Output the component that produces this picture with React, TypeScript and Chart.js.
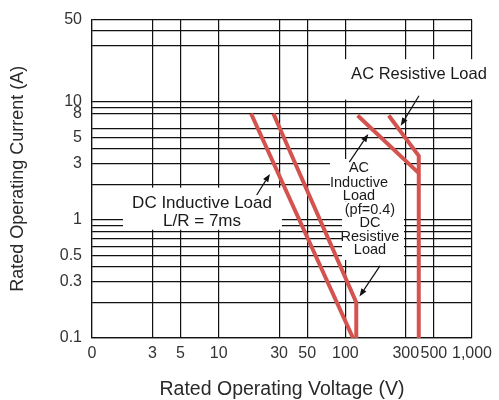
import React, { useEffect, useRef } from "react";
import { Chart, registerables } from "chart.js";

Chart.register(...registerables);

const FONT = "'Liberation Sans', Arial, sans-serif";

// Axis ticks
const xTicks = [1, 3, 5, 10, 30, 50, 100, 300, 500, 1000];
const xTickLabels = ["0", "3", "5", "10", "30", "50", "100", "300", "500", "1,000"];
const yTicks = [0.1, 0.2, 0.3, 0.4, 0.5, 0.6, 0.7, 0.8, 0.9, 1, 2, 3, 4, 5, 6, 8, 9, 10, 30, 40, 50];
const yLabeled = [0.1, 0.3, 0.5, 1, 3, 5, 8, 10, 50];
const yTickLabels = ["0.1", "0.3", "0.5", "1", "3", "5", "8", "10", "50"];

// Series (voltage V, current A)
const dcInductiveV = [18, 115];
const dcInductiveA = [8, 0.1];
const dcResistiveV = [27, 122, 122];
const dcResistiveA = [8, 0.2, 0.1];
const acInductiveV = [125, 380];
const acInductiveA = [7.7, 2.5];
const acResistiveV = [220, 380, 380];
const acResistiveA = [7.7, 3.5, 0.1];

// Annotations (in data units)
const labelBoxes = [
  [95.8, 1387, 23.1, 10.5],
  [1.756, 31.6, 1.88, 0.828],
  [75.7, 290.5, 3.29, 1.435],
  [94.1, 290.5, 1.435, 0.459],
];
const labelTexts = ["AC Resistive Load", "DC Inductive Load", "L/R = 7ms", "AC", "Inductive", "Load", "(pf=0.4)", "DC", "Resistive", "Load"];
const labelX = [381.5, 7.39, 7.39, 128.2, 128.2, 128.2, 156.5, 156.5, 156.5, 156.5];
const labelY = [17.0, 1.387, 0.975, 2.77, 2.07, 1.61, 1.205, 0.938, 0.716, 0.557];
const labelSize = [16.5, 17, 17, 14.5, 14.5, 14.5, 14.5, 14.5, 14.5, 14.5];
const arrowFrom = [[381.5, 11.3], [107.5, 3.1], [19.96, 1.63], [187.7, 0.409]];
const arrowTo = [[273.6, 6.3], [151.8, 5.36], [25.4, 2.46], [129.3, 0.225]];

const RED = "#d4534e";

const toPoints = (xs: number[], ys: number[]) => xs.map((v, i) => ({ x: v, y: ys[i] }));

const annotationPlugin = {
  id: "annotations",
  beforeDatasetsDraw(chart: any) {
    const { ctx } = chart;
    const xs = chart.scales.x;
    const ys = chart.scales.y;
    ctx.save();
    ctx.fillStyle = "#ffffff";
    labelBoxes.forEach(([x1, x2, y1, y2]) => {
      const px1 = xs.getPixelForValue(x1);
      const px2 = xs.getPixelForValue(x2);
      const py1 = ys.getPixelForValue(y1);
      const py2 = ys.getPixelForValue(y2);
      ctx.fillRect(px1, py1, px2 - px1, py2 - py1);
    });
    ctx.strokeStyle = "#111";
    ctx.fillStyle = "#111";
    ctx.lineWidth = 1.2;
    arrowFrom.forEach((f, i) => {
      const t = arrowTo[i];
      const fx = xs.getPixelForValue(f[0]);
      const fy = ys.getPixelForValue(f[1]);
      const tx = xs.getPixelForValue(t[0]);
      const ty = ys.getPixelForValue(t[1]);
      const ang = Math.atan2(ty - fy, tx - fx);
      const hl = 8;
      const hw = 3;
      const bx = tx - hl * Math.cos(ang);
      const by = ty - hl * Math.sin(ang);
      ctx.beginPath();
      ctx.moveTo(fx, fy);
      ctx.lineTo(bx, by);
      ctx.stroke();
      ctx.beginPath();
      ctx.moveTo(tx, ty);
      ctx.lineTo(bx + hw * Math.sin(ang), by - hw * Math.cos(ang));
      ctx.lineTo(bx - hw * Math.sin(ang), by + hw * Math.cos(ang));
      ctx.closePath();
      ctx.fill();
    });
    ctx.fillStyle = "#1a1a1a";
    ctx.textAlign = "center";
    ctx.textBaseline = "middle";
    labelTexts.forEach((t, i) => {
      ctx.font = `${labelSize[i]}px ${FONT}`;
      ctx.fillText(t, xs.getPixelForValue(labelX[i]), ys.getPixelForValue(labelY[i]));
    });
    ctx.restore();
  },
};

export default function App() {
  const canvasRef = useRef<HTMLCanvasElement | null>(null);

  useEffect(() => {
    const canvas = canvasRef.current;
    if (!canvas) return;
    const lineStyle = {
      borderColor: RED,
      backgroundColor: RED,
      borderWidth: 4,
      pointRadius: 0,
      fill: false,
      tension: 0,
      borderCapStyle: "butt" as const,
      borderJoinStyle: "miter" as const,
    };
    const chart = new Chart(canvas, {
      type: "line",
      data: {
        datasets: [
          { label: "DC Inductive Load", data: toPoints(dcInductiveV, dcInductiveA), ...lineStyle },
          { label: "DC Resistive Load", data: toPoints(dcResistiveV, dcResistiveA), ...lineStyle },
          { label: "AC Inductive Load", data: toPoints(acInductiveV, acInductiveA), ...lineStyle },
          { label: "AC Resistive Load", data: toPoints(acResistiveV, acResistiveA), ...lineStyle },
        ],
      },
      options: {
        animation: false,
        responsive: false,
        layout: { padding: { top: 16, right: 27, bottom: 0, left: 0 } },
        plugins: { legend: { display: false }, tooltip: { enabled: false } },
        scales: {
          x: {
            type: "logarithmic",
            min: 1,
            max: 1000,
            afterBuildTicks: (s: any) => {
              s.ticks = xTicks.map((v) => ({ value: v }));
            },
            afterFit: (s: any) => {
              s.height = 62;
            },
            ticks: {
              autoSkip: false,
              maxRotation: 0,
              padding: 6,
              color: "#333",
              font: { family: FONT, size: 16 },
              callback: (v: any) => {
                const i = xTicks.indexOf(Number(v));
                return i >= 0 ? xTickLabels[i] : "";
              },
            },
            grid: { color: "#111", lineWidth: 1.2, drawTicks: false },
            border: { color: "#111", width: 1.2 },
            title: {
              display: true,
              text: "Rated Operating Voltage (V)",
              color: "#2a2a2a",
              font: { family: FONT, size: 19.5 },
              padding: { top: 0, bottom: -1.5 },
            },
          },
          y: {
            type: "logarithmic",
            min: 0.1,
            max: 50,
            afterBuildTicks: (s: any) => {
              s.ticks = yTicks.map((v) => ({ value: v }));
            },
            afterFit: (s: any) => {
              s.width = 92;
            },
            ticks: {
              autoSkip: false,
              padding: 10,
              color: "#333",
              font: { family: FONT, size: 16 },
              callback: (v: any) => {
                const i = yLabeled.indexOf(Number(v));
                return i >= 0 ? yTickLabels[i] : "";
              },
            },
            grid: { color: "#111", lineWidth: 1.2, drawTicks: false },
            border: { color: "#111", width: 1.2 },
            title: {
              display: true,
              text: "Rated Operating Current (A)",
              color: "#2a2a2a",
              font: { family: FONT, size: 18 },
              padding: { top: 7, bottom: 0 },
            },
          },
        },
      },
      plugins: [annotationPlugin],
    } as any);
    return () => chart.destroy();
  }, []);

  return (
    <div style={{ position: "fixed", left: 0, top: 0, width: 499, height: 400, background: "#fff" }}>
      <canvas ref={canvasRef} width={499} height={400} />
    </div>
  );
}
